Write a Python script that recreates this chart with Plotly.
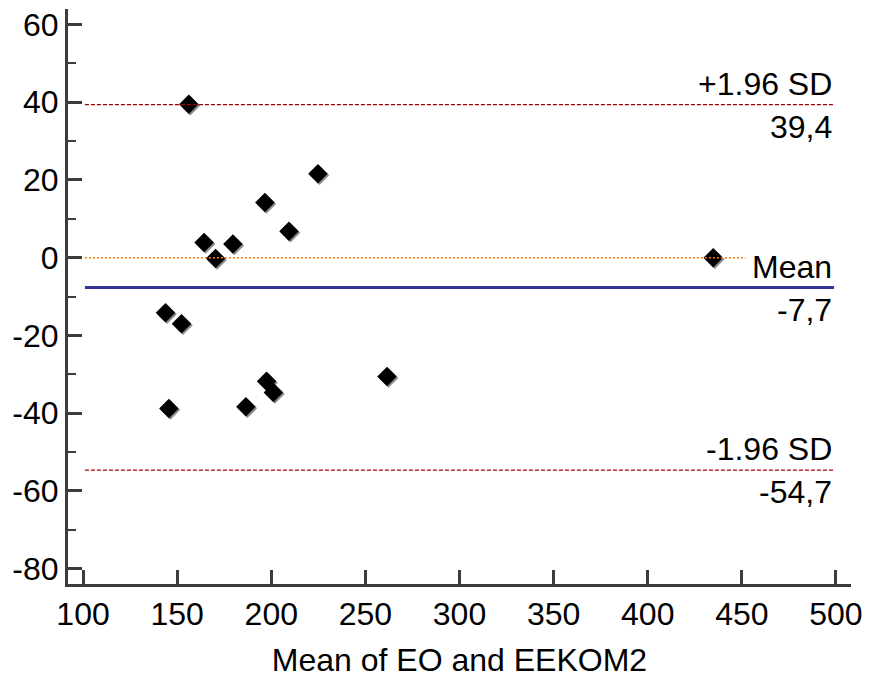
import plotly.graph_objects as go

# Bland-Altman data: mean of the two methods vs their difference
mean_eo_eekom2 = [156.2, 164.3, 170.4, 179.6, 196.6, 209.4, 224.8, 434.8,
                  143.8, 152.3, 145.6, 186.5, 197.5, 201.1, 261.5]
difference = [39.5, 3.9, -0.2, 3.5, 14.2, 6.8, 21.6, 0.0,
              -14.2, -17.0, -38.8, -38.4, -31.8, -34.7, -30.6]

mean_diff = -7.7
upper_loa = 39.4
lower_loa = -54.7

x_ticks = [100, 150, 200, 250, 300, 350, 400, 450, 500]
y_ticks = [60, 40, 20, 0, -20, -40, -60, -80]

FONT = "Liberation Sans, Arial, sans-serif"
FS = 32
AXIS_COLOR = "#3c3c3c"
X_RANGE = [92, 508]
Y_RANGE = [-84, 64]

fig = go.Figure()

# soft drop shadow: same points on an overlaid axis pair nudged by ~1.5 px
fig.add_trace(go.Scatter(
    x=mean_eo_eekom2, y=difference, mode="markers", xaxis="x2", yaxis="y2",
    marker=dict(symbol="diamond", size=15, color="#8a8a8a"),
    showlegend=False, hoverinfo="skip",
))
# the points themselves, on a top overlay with the same ranges as the main axes
fig.add_trace(go.Scatter(
    x=mean_eo_eekom2, y=difference, mode="markers", xaxis="x3", yaxis="y3",
    marker=dict(symbol="diamond", size=15, color="black"),
    showlegend=False, hoverinfo="x+y",
))

line_x0, line_x1 = 101, 499

# zero reference line (drawn over the points)
fig.add_shape(type="line", x0=line_x0, x1=452, y0=0, y1=0,
              line=dict(color="#ff7f00", width=1.5, dash="2px,2px"), layer="above")
# mean difference
fig.add_shape(type="line", x0=line_x0, x1=line_x1, y0=mean_diff, y1=mean_diff,
              line=dict(color="#333399", width=3), layer="above")
# limits of agreement
for v in (upper_loa, lower_loa):
    fig.add_shape(type="line", x0=line_x0, x1=line_x1, y0=v, y1=v,
                  line=dict(color="#a00000", width=1.3, dash="4px,2px"), layer="above")

def fmt(v):
    return f"{v:.1f}".replace(".", ",")

labels = [("+1.96 SD", upper_loa), ("Mean", mean_diff), ("-1.96 SD", lower_loa)]
for name, v in labels:
    fig.add_annotation(x=line_x1, y=v, xref="x", yref="y", text=name,
                       showarrow=False, xanchor="right", yanchor="bottom",
                       yshift=1, font=dict(family=FONT, size=FS, color="black"))
    fig.add_annotation(x=line_x1, y=v, xref="x", yref="y", text=fmt(v),
                       showarrow=False, xanchor="right", yanchor="top",
                       yshift=-2, font=dict(family=FONT, size=FS, color="black"))

fig.update_xaxes(
    range=X_RANGE, tickvals=x_ticks, ticktext=[str(t) for t in x_ticks],
    showgrid=False, zeroline=False, showline=True, linecolor=AXIS_COLOR, linewidth=3,
    ticks="inside", ticklen=14, tickwidth=3, tickcolor=AXIS_COLOR,
    tickfont=dict(family=FONT, size=FS, color="black"),
    title=dict(text="Mean of EO and EEKOM2", font=dict(family=FONT, size=FS, color="black"),
               standoff=18),
)
fig.update_yaxes(
    range=Y_RANGE, tickvals=y_ticks, ticktext=[str(t) for t in y_ticks],
    showgrid=False, zeroline=False, showline=True, linecolor=AXIS_COLOR, linewidth=3,
    ticks="inside", ticklen=14, tickwidth=3, tickcolor=AXIS_COLOR,
    tickfont=dict(family=FONT, size=FS, color="black"),
    minor=dict(tickvals=[50, 30, 10, -10, -30, -50, -70], ticks="inside",
               ticklen=8, tickwidth=2, tickcolor=AXIS_COLOR, showgrid=False),
)

# pixel offset of the shadow converted to axis units
plot_w = 870 - 68 - 19
plot_h = 681 - 7 - 97
dx = 1.5 * (X_RANGE[1] - X_RANGE[0]) / plot_w
dy = 1.5 * (Y_RANGE[1] - Y_RANGE[0]) / plot_h

fig.update_layout(
    width=870, height=681,
    margin=dict(l=68, r=19, t=7, b=97),
    plot_bgcolor="white", paper_bgcolor="white",
    font=dict(family=FONT),
    xaxis2=dict(overlaying="x", range=[X_RANGE[0] - dx, X_RANGE[1] - dx], visible=False),
    yaxis2=dict(overlaying="y", range=[Y_RANGE[0] + dy, Y_RANGE[1] + dy], visible=False),
    xaxis3=dict(overlaying="x", range=X_RANGE, visible=False),
    yaxis3=dict(overlaying="y", range=Y_RANGE, visible=False),
)

fig.write_html("out.html")
